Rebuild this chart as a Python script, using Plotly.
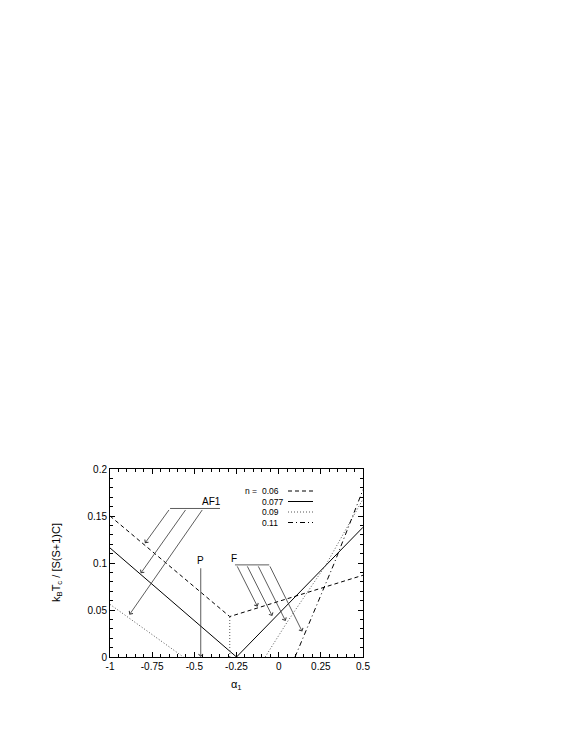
import plotly.graph_objects as go

# phase boundaries k_B T_c / [S(S+1)C] vs alpha_1, one list per n
alpha_n006 = [-1.0, -0.29, 0.5]
tc_n006 = [0.150, 0.043, 0.087]

alpha_n0077 = [-1.0, -0.25, 0.5]
tc_n0077 = [0.116, 0.0, 0.138]

# n = 0.09: left branch, vertical boundary, right branch (None = gap)
alpha_n009 = [-1.0, -0.565, None, -0.29, -0.29, None, -0.08, 0.05, 0.28, 0.5]
tc_n009 = [0.056, 0.0, None, 0.0, 0.043, None, 0.0, 0.037, 0.098, 0.168]

alpha_n011 = [0.097, 0.33, 0.5]
tc_n011 = [0.0, 0.10, 0.178]

legend_labels = ["0.06", "0.077", "0.09", "0.11"]
dash_styles = ["4px,3px", "solid", "1px,2px", "5px,3px,1px,3px"]
line_colors = ["black", "black", "#555", "black"]

# phase labels and their arrows
af1_bar_x = [-0.644, -0.348]
af1_bar_y = 0.158
af1_tails_x = [-0.644, -0.546, -0.447]
af1_tips = [(-0.793, 0.121), (-0.818, 0.089), (-0.885, 0.045)]

p_x = -0.462
p_top = 0.096

f_bar_x = [-0.259, -0.056]
f_bar_y = 0.098
f_tails_x = [-0.250, -0.190, -0.125, -0.056]
f_tips = [(-0.125, 0.0535), (-0.038, 0.0436), (0.041, 0.0383), (0.140, 0.027)]

x_ticks = [-1, -0.75, -0.5, -0.25, 0, 0.25, 0.5]
x_ticktext = ["-1", "-0.75", "-0.5", "-0.25", "0", "0.25", "0.5"]
y_ticks = [0, 0.05, 0.1, 0.15, 0.2]
y_ticktext = ["0", "0.05", "0.1", "0.15", "0.2"]

FONT = "Liberation Sans, Arial, sans-serif"

fig = go.Figure()
series = [(alpha_n006, tc_n006), (alpha_n0077, tc_n0077),
          (alpha_n009, tc_n009), (alpha_n011, tc_n011)]
for (xs, ys), name, dash, col in zip(series, legend_labels, dash_styles, line_colors):
    fig.add_trace(go.Scatter(x=xs, y=ys, mode="lines", name=name, showlegend=False,
                             line=dict(color=col, width=1, dash=dash), connectgaps=False))

arrow_style = dict(showarrow=True, arrowhead=4, arrowsize=1.1, arrowwidth=0.8,
                   arrowcolor="#333", axref="x", ayref="y", text="", standoff=0)

# AF1
fig.add_shape(type="line", x0=af1_bar_x[0], x1=af1_bar_x[1], y0=af1_bar_y, y1=af1_bar_y,
              line=dict(color="#333", width=0.8))
for tx, (hx, hy) in zip(af1_tails_x, af1_tips):
    fig.add_annotation(x=hx, y=hy, ax=tx, ay=af1_bar_y, **arrow_style)
fig.add_annotation(x=-0.398, y=af1_bar_y, text="AF1", showarrow=False, yanchor="bottom",
                   yshift=-1, font=dict(size=10, family=FONT, color="black"))

# P
fig.add_annotation(x=p_x, y=0, ax=p_x, ay=p_top, **arrow_style)
fig.add_annotation(x=p_x, y=p_top, text="P", showarrow=False, yanchor="bottom",
                   yshift=-1, font=dict(size=10, family=FONT, color="black"))

# F
fig.add_shape(type="line", x0=f_bar_x[0], x1=f_bar_x[1], y0=f_bar_y, y1=f_bar_y,
              line=dict(color="#333", width=0.8))
for tx, (hx, hy) in zip(f_tails_x, f_tips):
    fig.add_annotation(x=hx, y=hy, ax=tx, ay=f_bar_y, **arrow_style)
fig.add_annotation(x=f_bar_x[0], y=f_bar_y, text="F", showarrow=False, yanchor="bottom",
                   xanchor="left", yshift=-1, xshift=-6,
                   font=dict(size=10, family=FONT, color="black"))

# plot box as it lands on screen (page body adds an 8 px offset)
PAGE_OFF = 8
plot_l, plot_r, plot_t, plot_b = 110, 363, 469, 657


def px_x(px):
    return (px - plot_l) / (plot_r - plot_l)


def px_y(py):
    return (plot_b - py) / (plot_b - plot_t)


# hand-made legend (gnuplot style)
row_y = [491, 501.5, 512, 522.5]
legend_font = dict(size=8.5, family=FONT, color="black")
fig.add_annotation(xref="paper", yref="paper", x=px_x(259), y=px_y(row_y[0]), text="n =",
                   showarrow=False, xanchor="right", yanchor="middle", font=legend_font)
for ry, lab, dash, col in zip(row_y, legend_labels, dash_styles, line_colors):
    fig.add_annotation(xref="paper", yref="paper", x=px_x(260), y=px_y(ry), text=lab,
                       showarrow=False, xanchor="left", yanchor="middle", font=legend_font)
    fig.add_shape(type="line", xref="paper", yref="paper", x0=px_x(288), x1=px_x(313),
                  y0=px_y(ry), y1=px_y(ry), line=dict(color=col, width=1, dash=dash))

# axis titles
fig.add_annotation(xref="paper", yref="paper", x=px_x(57), y=px_y(563),
                   text="k<sub>B</sub>T<sub>c</sub> / [S(S+1)C]", textangle=-90, showarrow=False,
                   xanchor="center", yanchor="middle",
                   font=dict(size=11, family=FONT, color="black"))
fig.add_annotation(xref="paper", yref="paper", x=px_x(236), y=px_y(685),
                   text="α<sub>1</sub>", showarrow=False, xanchor="center", yanchor="middle",
                   font=dict(size=11, family=FONT, color="black"))

axis_common = dict(showgrid=False, zeroline=False, showline=True, linecolor="black",
                   linewidth=1, mirror="allticks", ticks="inside", ticklen=5,
                   tickcolor="black", tickwidth=0.8,
                   tickfont=dict(size=10, family=FONT, color="black"))

fig.update_xaxes(range=[-1, 0.5], tickvals=x_ticks, ticktext=x_ticktext,
                 minor=dict(dtick=0.05, ticks="inside", ticklen=3, tickcolor="black", tickwidth=0.8),
                 **axis_common)
fig.update_yaxes(range=[0, 0.2], tickvals=y_ticks, ticktext=y_ticktext,
                 minor=dict(dtick=0.01, ticks="inside", ticklen=3, tickcolor="black", tickwidth=0.8),
                 **axis_common)

W, H = 570, 737
fig.update_layout(width=W, height=H,
                  margin=dict(l=plot_l - PAGE_OFF, r=W + PAGE_OFF - plot_r,
                              t=plot_t - PAGE_OFF, b=H + PAGE_OFF - plot_b),
                  paper_bgcolor="white", plot_bgcolor="white",
                  font=dict(family=FONT), showlegend=False)

fig.write_html("out.html")
